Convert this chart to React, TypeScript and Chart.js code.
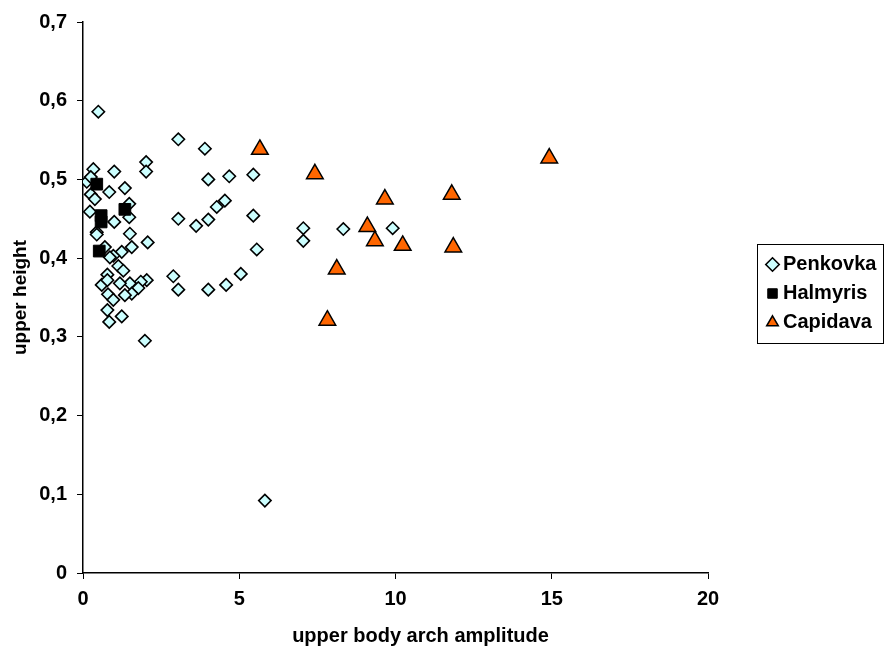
import React, { useEffect, useRef } from 'react';
import { Chart, registerables } from 'chart.js';

Chart.register(...registerables);

// ---------- data ----------
const seriesLabels = ['Penkovka', 'Halmyris', 'Capidava'];

const penkovkaX = [0.49, 3.05, 3.9, 0.33, 1.0, 2.02, 2.02, 0.12, 0.25, 0.84, 1.34, 0.25, 0.38, 1.48, 1.48, 0.22, 1.0, 3.05, 0.44, 0.44, 1.5, 2.07, 0.7, 1.56, 1.24, 0.97, 0.86, 1.13, 1.29, 0.78, 2.89, 2.04, 1.85, 1.5, 1.18, 0.6, 0.78, 3.05, 1.77, 1.56, 0.8, 1.34, 0.97, 0.78, 1.24, 0.84, 1.98, 4.01, 4.68, 5.45, 4.54, 4.28, 3.62, 4.01, 5.45, 7.05, 7.05, 5.56, 4.01, 4.58, 5.05, 8.33, 9.91, 5.82];
const penkovkaY = [0.586, 0.551, 0.539, 0.513, 0.51, 0.522, 0.51, 0.497, 0.503, 0.484, 0.489, 0.481, 0.475, 0.469, 0.452, 0.459, 0.446, 0.45, 0.433, 0.43, 0.431, 0.42, 0.414, 0.414, 0.408, 0.403, 0.401, 0.39, 0.384, 0.379, 0.377, 0.372, 0.37, 0.368, 0.368, 0.366, 0.372, 0.36, 0.362, 0.355, 0.354, 0.353, 0.347, 0.334, 0.326, 0.319, 0.295, 0.5, 0.504, 0.506, 0.473, 0.465, 0.441, 0.449, 0.454, 0.438, 0.422, 0.411, 0.36, 0.366, 0.38, 0.437, 0.438, 0.092];

const halmyrisX = [0.44, 1.34, 0.58, 0.58, 0.52];
const halmyrisY = [0.494, 0.462, 0.454, 0.446, 0.409];

const capidavaX = [5.66, 7.42, 14.92, 9.66, 11.8, 9.1, 9.34, 10.23, 11.85, 8.12, 7.82];
const capidavaY = [0.538, 0.507, 0.527, 0.475, 0.481, 0.44, 0.422, 0.416, 0.414, 0.386, 0.321];

const xAxisMin = 0;
const xAxisMax = 20;
const xAxisStep = 5;
const yAxisMin = 0;
const yAxisMax = 0.7;
const yAxisStep = 0.1;

const xTitle = 'upper body arch amplitude';
const yTitle = 'upper height';

// ---------- styling ----------
const FONT = "'Liberation Sans', Arial, Helvetica, sans-serif";
const W = 886;
const H = 652;
const LEGEND_BAND = 178; // space right of the plot area
const LEGEND_PAD = 9;

const toPoints = (xs: number[], ys: number[]) => xs.map((x, i) => ({ x, y: ys[i] }));

const excelPlugin = {
  id: 'excelLayout',
  beforeUpdate(chart: any) {
    const lg = chart.legend;
    if (lg && !lg._bandPatched) {
      const orig = lg.fit;
      lg.fit = function () {
        orig.call(this);
        this.width = LEGEND_BAND;
      };
      lg._bandPatched = true;
    }
  },
  afterLayout(chart: any) {
    const lg = chart.legend;
    if (!lg) return;
    const w = lg.right - lg.left;
    lg.left = chart.chartArea.right + 55;
    lg.right = lg.left + w;
    lg.top -= 4;
    lg.bottom -= 4;
  },
  afterDraw(chart: any) {
    const ctx = chart.ctx;
    const lg = chart.legend;
    ctx.save();
    if (lg && lg.columnSizes && lg.columnSizes[0]) {
      const col = lg.columnSizes[0];
      const x0 = lg.left + LEGEND_PAD;
      const y0 = (lg.top + LEGEND_PAD + lg.bottom - col.height) / 2;
      ctx.strokeStyle = '#000';
      ctx.lineWidth = 1;
      ctx.strokeRect(
        Math.round(x0 - 15) + 0.5,
        Math.round(y0 - 11) + 0.5,
        Math.round(col.width + 22),
        Math.round(col.height - LEGEND_PAD + 21)
      );
    }
    const ca = chart.chartArea;
    ctx.fillStyle = '#000';
    ctx.font = `bold 20px ${FONT}`;
    ctx.textAlign = 'center';
    ctx.textBaseline = 'middle';
    ctx.fillText(xTitle, (ca.left + ca.right) / 2 + 25, chart.height - 16);
    ctx.restore();
  },
};

export default function App() {
  const ref = useRef<HTMLCanvasElement>(null);

  useEffect(() => {
    const canvas = ref.current;
    if (!canvas) return;
    const tickFont = { family: FONT, size: 20, weight: 'bold' as const };
    const chart = new Chart(canvas, {
      type: 'scatter',
      data: {
        datasets: [
          {
            label: seriesLabels[0],
            data: toPoints(penkovkaX, penkovkaY),
            pointStyle: 'rectRot',
            pointRadius: 6.2,
            pointHoverRadius: 6.2,
            backgroundColor: '#CCFFFF',
            borderColor: '#000000',
            borderWidth: 1.6,
            order: 2,
          },
          {
            label: seriesLabels[1],
            data: toPoints(halmyrisX, halmyrisY),
            pointStyle: 'rect',
            pointRadius: 8.3,
            pointHoverRadius: 8.3,
            backgroundColor: '#000000',
            borderColor: '#000000',
            borderWidth: 1,
            order: 1,
          },
          {
            label: seriesLabels[2],
            data: toPoints(capidavaX, capidavaY),
            pointStyle: 'triangle',
            pointRadius: 9.6,
            pointHoverRadius: 9.6,
            backgroundColor: '#FF6600',
            borderColor: '#000000',
            borderWidth: 1.5,
            order: 0,
          },
        ],
      },
      options: {
        responsive: false,
        animation: false,
        devicePixelRatio: 1,
        events: [],
        layout: { padding: { top: 19, left: 0, right: 0, bottom: 0 } },
        scales: {
          x: {
            type: 'linear',
            position: 'bottom',
            min: xAxisMin,
            max: xAxisMax,
            ticks: {
              stepSize: xAxisStep,
              color: '#000',
              font: tickFont,
              padding: 8,
              maxRotation: 0,
            },
            grid: { drawOnChartArea: false, tickLength: 6, color: '#000', lineWidth: 1 },
            border: { color: '#000', width: 1.5 },
            afterFit: (s: any) => {
              s.height = 79;
            },
          },
          y: {
            type: 'linear',
            min: yAxisMin,
            max: yAxisMax,
            ticks: {
              stepSize: yAxisStep,
              color: '#000',
              font: tickFont,
              padding: 10,
              callback: (v: any) => (Number(v) === 0 ? '0' : Number(v).toFixed(1).replace('.', ',')),
            },
            title: {
              display: true,
              text: yTitle,
              color: '#000',
              font: { family: FONT, size: 19, weight: 'bold' },
              padding: { top: 9, bottom: 0 },
            },
            grid: { drawOnChartArea: false, tickLength: 6, color: '#000', lineWidth: 1 },
            border: { color: '#000', width: 1.5 },
            afterFit: (s: any) => {
              s.width = 83;
            },
          },
        },
        plugins: {
          legend: {
            display: true,
            position: 'right',
            fullSize: false,
            labels: {
              usePointStyle: true,
              boxWidth: 1,
              boxHeight: 9.5,
              padding: LEGEND_PAD,
              color: '#000',
              font: { family: FONT, size: 20, weight: 'bold' },
              sort: (a: any, b: any) => a.datasetIndex - b.datasetIndex,
            },
          },
          tooltip: { enabled: false },
        },
      },
      plugins: [excelPlugin],
    } as any);
    return () => chart.destroy();
  }, []);

  return (
    <div style={{ position: 'absolute', left: 0, top: 0, width: W, height: H, background: '#fff' }}>
      <canvas ref={ref} width={W} height={H} style={{ display: 'block', width: W, height: H }} />
    </div>
  );
}
